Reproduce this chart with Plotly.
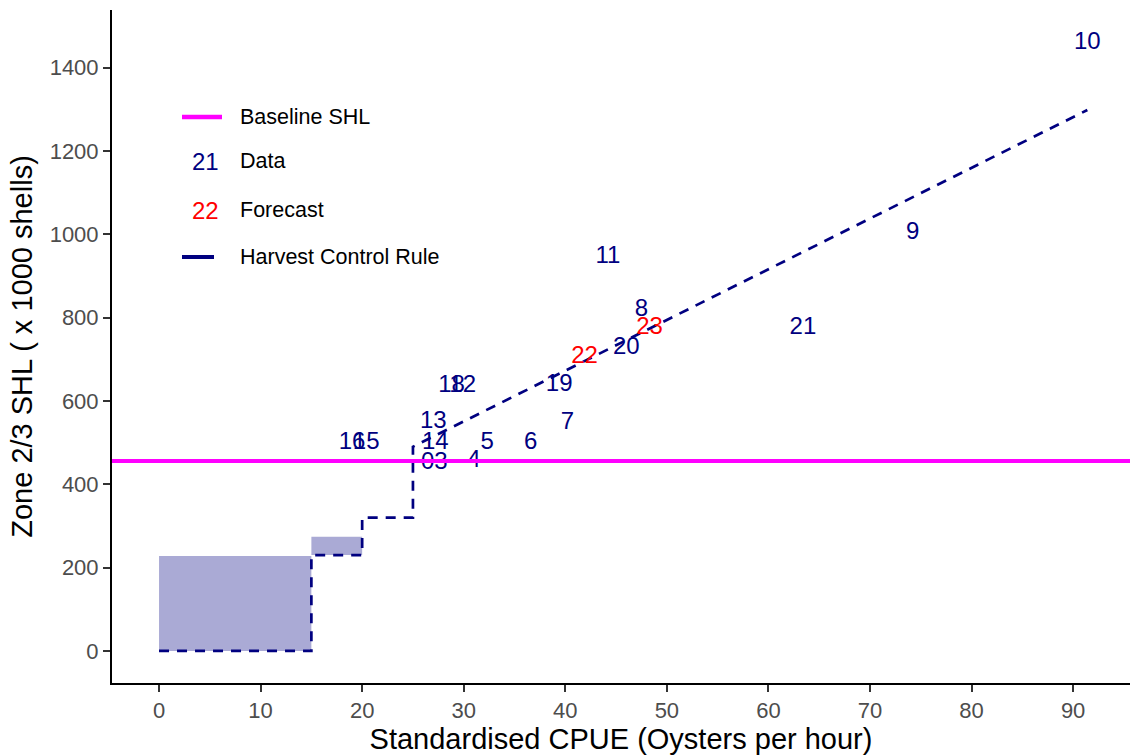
import plotly.graph_objects as go

# ---- data ----
data_labels = ["03", "4", "5", "6", "7", "8", "9", "10", "11", "12", "13", "14",
               "15", "16", "18", "19", "20", "21"]
data_cpue = [27.1, 31.0, 32.3, 36.6, 40.2, 47.5, 74.2, 91.4, 44.2, 29.9, 27.0, 27.2,
             20.4, 19.0, 28.8, 39.4, 46.0, 63.4]
data_shl = [451, 455, 499, 499, 547, 818, 1003, 1459, 945, 636, 550, 499,
            499, 499, 636, 638, 727, 775]

fc_labels = ["22", "23"]
fc_cpue = [41.9, 48.3]
fc_shl = [706, 775]

hcr_cpue = [0, 15, 15, 20, 20, 25, 25, 91.4]
hcr_shl = [0, 0, 230, 230, 320, 320, 490, 1298]

fill1_cpue = [0, 15, 15, 0, 0]
fill1_shl = [0, 0, 228, 228, 0]
fill2_cpue = [15, 20, 20, 15, 15]
fill2_shl = [230, 230, 274, 274, 230]

baseline_shl = 456

x_ticks = [0, 10, 20, 30, 40, 50, 60, 70, 80, 90]
y_ticks = [0, 200, 400, 600, 800, 1000, 1200, 1400]

NAVY = "#000080"
FONT = "Liberation Sans, Arial, sans-serif"

fig = go.Figure()

fillcol = "rgba(0,0,128,0.333)"
for fx, fy in [(fill1_cpue, fill1_shl), (fill2_cpue, fill2_shl)]:
    fig.add_trace(go.Scatter(x=fx, y=fy, fill="toself", fillcolor=fillcol,
                             mode="lines", line=dict(width=0), hoverinfo="skip",
                             showlegend=False))

fig.add_trace(go.Scatter(x=hcr_cpue, y=hcr_shl, mode="lines",
                         line=dict(color=NAVY, width=2.7, dash="10px,8px"),
                         showlegend=False))

fig.add_hline(y=baseline_shl, line=dict(color="#FF00FF", width=4))

fig.add_trace(go.Scatter(x=data_cpue, y=data_shl, mode="text", text=data_labels,
                         textposition="middle center",
                         textfont=dict(family=FONT, size=24, color=NAVY),
                         showlegend=False))
fig.add_trace(go.Scatter(x=fc_cpue, y=fc_shl, mode="text", text=fc_labels,
                         textposition="middle center",
                         textfont=dict(family=FONT, size=24, color="#FF0000"),
                         showlegend=False))

# ---- manual legend ----
def py(p):
    return (683 - p) / 673.0

def px(p):
    return (p - 112) / 1018.0

fig.add_shape(type="line", xref="paper", yref="paper", x0=px(182), x1=px(222),
              y0=py(117), y1=py(117), line=dict(color="#FF00FF", width=4.5))
fig.add_shape(type="line", xref="paper", yref="paper", x0=px(182), x1=px(214),
              y0=py(257), y1=py(257), line=dict(color=NAVY, width=4))
leg_rows = [("Baseline SHL", 117), ("Data", 161), ("Forecast", 210),
            ("Harvest Control Rule", 257)]
for txt, yy in leg_rows:
    fig.add_annotation(xref="paper", yref="paper", x=px(238), y=py(yy), text=txt,
                       showarrow=False, xanchor="left", yanchor="middle",
                       font=dict(family=FONT, size=21.5, color="#000000"))
fig.add_annotation(xref="paper", yref="paper", x=px(205), y=py(161), text="21",
                   showarrow=False, xanchor="center", yanchor="middle",
                   font=dict(family=FONT, size=24, color=NAVY))
fig.add_annotation(xref="paper", yref="paper", x=px(205), y=py(210), text="22",
                   showarrow=False, xanchor="center", yanchor="middle",
                   font=dict(family=FONT, size=24, color="#FF0000"))

axis_common = dict(showgrid=False, zeroline=False, showline=True, linecolor="#000000",
                   linewidth=2, ticks="outside", ticklen=7, tickwidth=1.5,
                   tickcolor="#333333",
                   tickfont=dict(family=FONT, size=22, color="#4D4D4D"))

fig.update_layout(
    width=1130, height=756,
    margin=dict(l=112, r=0, t=10, b=73),
    paper_bgcolor="white", plot_bgcolor="white",
    xaxis=dict(range=[-4.63, 95.6], tickvals=x_ticks,
               title=dict(text="Standardised CPUE (Oysters per hour)",
                          font=dict(family=FONT, size=29, color="#000000"), standoff=6),
               **axis_common),
    yaxis=dict(range=[-77, 1538], tickvals=y_ticks,
               title=dict(text="Zone 2/3 SHL ( x 1000 shells)",
                          font=dict(family=FONT, size=29, color="#000000"), standoff=8),
               **axis_common),
    showlegend=False,
)

fig.write_html("out.html")
